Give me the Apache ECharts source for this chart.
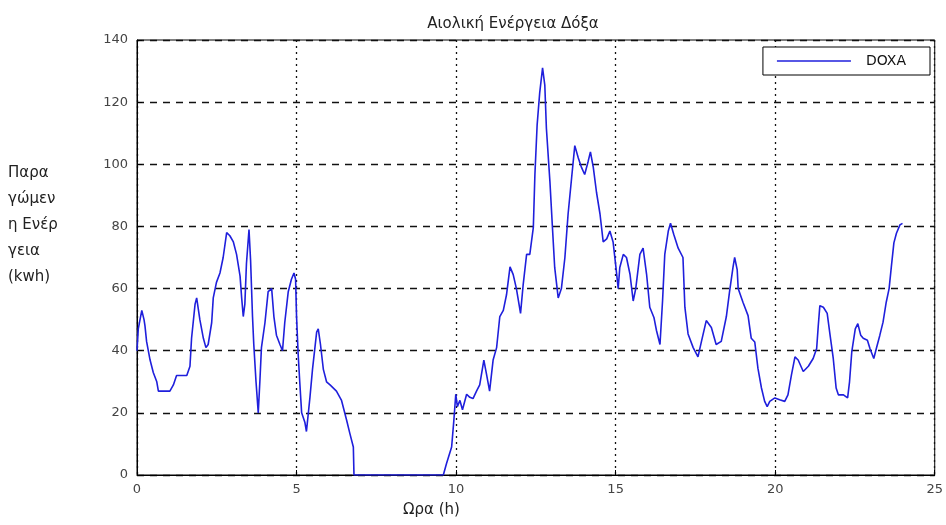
<!DOCTYPE html>
<html>
<head>
<meta charset="utf-8">
<title>Αιολική Ενέργεια Δόξα</title>
<script src="https://cdn.jsdelivr.net/npm/echarts@6/dist/echarts.min.js"></script>
<style>
  html, body { margin: 0; padding: 0; background: #fff; }
  #chart { width: 946px; height: 525px; }
</style>
</head>
<body>
<div id="chart"></div>
<script>
// Hour of day for each sample
const hours = [
  0.00, 0.04, 0.15, 0.22, 0.25, 0.30, 0.41, 0.51, 0.62, 0.67,
  1.03, 1.14, 1.24, 1.35, 1.56, 1.66, 1.71, 1.82, 1.87, 1.97,
  2.08, 2.16, 2.23, 2.34, 2.39, 2.49, 2.60, 2.70, 2.81, 2.91,
  3.02, 3.12, 3.23, 3.28, 3.33, 3.38, 3.43, 3.51, 3.56, 3.62,
  3.66, 3.73, 3.80, 3.85, 3.90, 4.01, 4.11, 4.22, 4.29, 4.37,
  4.48, 4.56, 4.63, 4.74, 4.84, 4.92, 4.97, 5.00, 5.05, 5.10,
  5.16, 5.26, 5.31, 5.42, 5.50, 5.63, 5.68, 5.75, 5.84, 5.94,
  6.05, 6.25, 6.41, 6.57, 6.67, 6.78, 6.80, 9.60, 9.70, 9.86,
  9.93, 9.99, 10.04, 10.12, 10.20, 10.33, 10.43, 10.53, 10.64, 10.74,
  10.87, 10.95, 11.05, 11.16, 11.27, 11.37, 11.48, 11.58, 11.69, 11.79,
  11.89, 12.02, 12.10, 12.21, 12.31, 12.42, 12.47, 12.54, 12.62, 12.71,
  12.78, 12.83, 12.94, 13.02, 13.09, 13.20, 13.30, 13.41, 13.51, 13.62,
  13.72, 13.83, 13.93, 14.03, 14.14, 14.21, 14.30, 14.40, 14.51, 14.61,
  14.72, 14.82, 14.92, 15.01, 15.08, 15.13, 15.24, 15.34, 15.45, 15.55,
  15.63, 15.76, 15.86, 15.97, 16.07, 16.20, 16.28, 16.39, 16.47, 16.54,
  16.65, 16.72, 16.82, 16.96, 17.11, 17.17, 17.27, 17.43, 17.58, 17.69,
  17.84, 18.00, 18.15, 18.31, 18.47, 18.57, 18.68, 18.73, 18.81, 18.84,
  18.99, 19.15, 19.25, 19.36, 19.46, 19.57, 19.67, 19.75, 19.83, 19.99,
  20.14, 20.30, 20.40, 20.51, 20.62, 20.72, 20.88, 21.04, 21.19, 21.30,
  21.35, 21.40, 21.51, 21.63, 21.72, 21.82, 21.91, 21.98, 22.14, 22.27,
  22.33, 22.40, 22.51, 22.59, 22.68, 22.76, 22.89, 22.97, 23.09, 23.17,
  23.28, 23.38, 23.48, 23.57, 23.64, 23.72, 23.80, 23.91, 23.99
];

// Produced energy (kWh) at each sample
const energy = [
  40, 47, 53, 50, 48, 43, 37, 33, 30, 27,
  27, 29, 32, 32, 32, 35, 44, 55, 57, 50,
  44, 41, 42, 49, 57, 62, 65, 70, 78, 77,
  75, 71, 64, 57, 51, 55, 68, 79, 69, 51,
  42, 30, 20, 30, 41, 49, 59, 60, 51, 45,
  42, 40, 49, 59, 63, 65, 63, 51, 39, 30,
  20, 17, 14, 25, 34, 46, 47, 42, 34, 30,
  29, 27, 24, 17.6, 13.4, 9, 0, 0, 3.7, 9,
  17.6, 26, 22, 24, 21, 26, 25, 24.6, 27, 29,
  37, 32.6, 27, 37, 41, 51, 53, 58, 67, 64.5,
  60, 52, 61, 71, 71, 79.6, 96.7, 112.7, 123, 131,
  125.5, 111.6, 94.5, 79.6, 66.8, 57, 60, 70, 84, 95.6,
  106, 102, 99, 96.7, 101, 104, 99, 91, 84, 75,
  76, 78.5, 75, 66.8, 60, 66.8, 71, 70, 64.6, 56,
  60, 71, 73, 64.6, 54, 50.7, 46.5, 42, 56, 71,
  78.5, 81, 77.5, 73, 70, 54, 45.4, 41, 38, 43,
  49.7, 47.5, 42, 43, 51, 59, 67, 70, 66, 60,
  55.6, 51.3, 44, 42.8, 34.3, 28, 23.7, 22, 23.7, 24.8,
  24.2, 23.7, 25.8, 32.2, 38, 37, 33.3, 35, 37.5, 40.7,
  48, 54.5, 54, 52, 45, 37.5, 28, 25.8, 25.8, 24.8,
  30, 39.6, 47, 48.7, 45, 44, 43.4, 40.7, 37.5, 40.7,
  45, 49.2, 55.6, 60, 67, 74.7, 77.8, 80.5, 81
];

const seriesName = 'DOXA';
const titleText = 'Αιολική Ενέργεια Δόξα';
const xAxisTitle = 'Ωρα (h)';
const yAxisTitle = 'Παρα\nγώμεν\nη Ενέρ\nγεια\n(kwh)';

const points = hours.map((h, i) => [h, energy[i]]);
const lineColor = '#1f1fdc';

const chart = echarts.init(document.getElementById('chart'), null, { renderer: 'canvas' });

const fontFamily = 'DejaVu Sans, Verdana, sans-serif';

chart.setOption({
  backgroundColor: '#ffffff',
  animation: false,
  textStyle: { fontFamily: fontFamily },
  title: {
    text: titleText,
    left: 508,
    top: 12,
    textAlign: 'center',
    textStyle: { fontSize: 15, fontWeight: 'normal', color: '#222', fontFamily: fontFamily }
  },
  legend: {
    data: [{ name: seriesName, icon: 'rect' }],
    right: 16,
    top: 47,
    orient: 'horizontal',
    itemWidth: 74,
    itemHeight: 1.6,
    padding: [7, 24, 7, 14],
    borderColor: '#000',
    borderWidth: 1,
    backgroundColor: '#fff',
    itemStyle: { color: lineColor },
    textStyle: { fontSize: 14, color: '#111', fontFamily: fontFamily, padding: [0, 0, 0, 10] }
  },
  grid: {
    left: 137,
    right: 11,
    top: 40,
    bottom: 50,
    show: true,
    borderColor: '#000',
    borderWidth: 1,
    backgroundColor: 'transparent'
  },
  xAxis: {
    type: 'value',
    min: 0,
    max: 25,
    interval: 5,
    axisLine: { show: true, lineStyle: { color: '#000', width: 1 } },
    axisTick: { show: true, inside: true, length: 5, lineStyle: { color: '#000' } },
    axisLabel: { color: '#444', fontSize: 13, margin: 8, fontFamily: fontFamily },
    splitLine: { show: true, lineStyle: { color: '#111', width: 1.3, type: [2, 4] } }
  },
  yAxis: {
    type: 'value',
    min: 0,
    max: 140,
    interval: 20,
    axisLine: { show: true, lineStyle: { color: '#000', width: 1 } },
    axisTick: { show: true, inside: true, length: 5, lineStyle: { color: '#000' } },
    axisLabel: { color: '#444', fontSize: 13, margin: 9, fontFamily: fontFamily },
    splitLine: { show: true, lineStyle: { color: '#111', width: 1.3, type: [7, 6] } }
  },
  graphic: [
    {
      type: 'text',
      left: 8,
      top: 160,
      style: {
        text: yAxisTitle,
        fill: '#222',
        font: '15px ' + fontFamily,
        lineHeight: 26
      }
    },
    {
      type: 'text',
      left: 403,
      top: 503,
      style: {
        text: xAxisTitle,
        fill: '#222',
        font: '15px ' + fontFamily
      }
    }
  ],
  series: [
    {
      name: seriesName,
      type: 'line',
      data: points,
      showSymbol: false,
      symbol: 'none',
      lineStyle: { color: lineColor, width: 1.6 },
      itemStyle: { color: lineColor },
      z: 5
    }
  ]
});
</script>
</body>
</html>
